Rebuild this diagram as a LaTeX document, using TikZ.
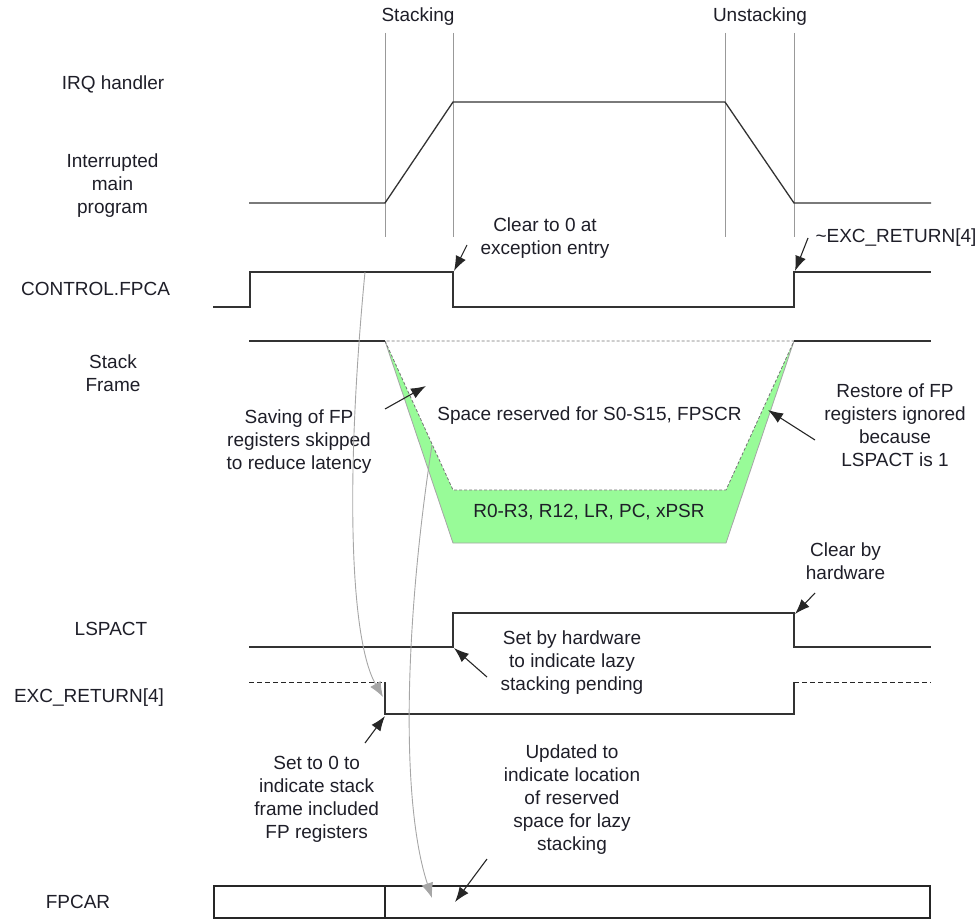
\documentclass[tikz,border=0pt]{standalone}
\usepackage{fontspec}
\setmainfont{Liberation Sans}
\usetikzlibrary{arrows.meta}
\definecolor{framegreen}{HTML}{98FB98}
\definecolor{inkc}{HTML}{1E1E28}
\begin{document}
\begin{tikzpicture}[x=1pt,y=-1pt,
  trace/.style={draw=black!80, line width=1.3pt},
  guide/.style={draw=black!40, line width=0.9pt},
  lbl/.style={font=\fontsize{19}{23}\selectfont, align=center, inner sep=0pt, text=inkc},
  callout/.style={draw=black!85, line width=1.1pt, -{Latex[length=15pt,width=11pt]}},
  flow/.style={draw=black!35, line width=0.9pt, -{Latex[length=15pt,width=12pt]}},
  reserved/.style={draw=black!55, line width=0.8pt, dash pattern=on 3pt off 2pt},
  undef/.style={draw=black!85, line width=1pt, dash pattern=on 5pt off 3pt}
]
\useasboundingbox (0,0) rectangle (979,920);

% phase boundaries
\draw[guide] (385,33) -- (385,237);
\draw[guide] (453,33) -- (453,237);
\draw[guide] (725,33) -- (725,237);
\draw[guide] (794,33) -- (794,237);
\node[lbl] (stk) at (418,17) {Stacking};
\node[lbl] (unstk) at (760,17) {Unstacking};

% row labels
\node[lbl] (irq) at (113,84) {IRQ handler};
\node[lbl] (mainp) at (112.5,186) {Interrupted\\main\\program};
\node[lbl] (fpca) at (95.5,289) {CONTROL.FPCA};
\node[lbl] (frame) at (113,373.5) {Stack\\Frame};
\node[lbl] (lspact) at (111,629) {LSPACT};
\node[lbl] (excret) at (89,698) {EXC\_RETURN[4]};
\node[lbl] (fpcar) at (78,902) {FPCAR};

% execution context
\draw[trace] (249,203) -- (385,203) -- (453,102) -- (725,102) -- (794,203) -- (931,203);

% CONTROL.FPCA
\draw[trace] (213,307) -- (250,307) -- (250,272) -- (453,272) -- (453,307) -- (794,307) -- (794,272) -- (931,272);

% stack frame
\fill[framegreen] (385,341) -- (453,543) -- (726,543) -- (794,341) -- cycle;
\fill[white] (385,341) -- (453,490) -- (726,490) -- (794,341) -- cycle;
\draw[draw=black!35, line width=0.8pt] (385,341) -- (453,543) -- (726,543) -- (794,341);
\draw[reserved] (385,341) -- (453,490) -- (726,490) -- (794,341) -- cycle;
\draw[trace] (249,341) -- (385,341);
\draw[trace] (794,341) -- (931,341);
\node[lbl] (fpspace) at (589.5,416) {Space reserved for S0-S15, FPSCR};
\node[lbl] (basic) at (589,512) {R0-R3, R12, LR, PC, xPSR};

% LSPACT
\draw[trace] (249,647) -- (453,647) -- (453,613) -- (794,613) -- (794,647) -- (931,647);

% EXC_RETURN[4]
\draw[undef] (249,682) -- (385,682);
\draw[trace] (385,682) -- (385,714) -- (794,714) -- (794,682);
\draw[undef] (794,682) -- (931,682);

% FPCAR
\draw[draw=black!85, line width=1.2pt] (214,886) rectangle (930,918);
\draw[draw=black!85, line width=1.2pt] (385,886) -- (385,918);

% annotations
\node[lbl] (clr0) at (545,238.5) {Clear to 0 at\\exception entry};
\node[lbl] (nexc) at (896,238) {\textasciitilde EXC\_RETURN[4]};
\node[lbl] (skip) at (299,442) {Saving of FP\\registers skipped\\to reduce latency};
\node[lbl] (restore) at (895,425) {Restore of FP\\registers ignored\\because\\LSPACT is 1};
\node[lbl] (clrhw) at (845.5,561.5) {Clear by\\hardware};
\node[lbl] (sethw) at (572,663) {Set by hardware\\to indicate lazy\\stacking pending};
\node[lbl] (set0) at (316.7,799.5) {Set to 0 to\\indicate stack\\frame included\\FP registers};
\node[lbl] (upd) at (572,800) {Updated to\\indicate location\\of reserved\\space for lazy\\stacking};

% callout end points
\coordinate (clr0-s) at (467,245);   \coordinate (clr0-t) at (454,271);
\coordinate (nexc-s) at (808,238);   \coordinate (nexc-t) at (795,271);
\coordinate (skip-s) at (385,409);   \coordinate (skip-t) at (426,386);
\coordinate (restore-s) at (815,440);\coordinate (restore-t) at (768,410);
\coordinate (clrhw-s) at (815,593);  \coordinate (clrhw-t) at (795,614);
\coordinate (sethw-s) at (487,677);  \coordinate (sethw-t) at (454,648);
\coordinate (set0-s) at (365,743);   \coordinate (set0-t) at (385,716);
\coordinate (upd-s) at (487,859);    \coordinate (upd-t) at (455,902);

\draw[callout] (clr0-s) -- (clr0-t);
\draw[callout] (nexc-s) -- (nexc-t);
\draw[callout] (skip-s) -- (skip-t);
\draw[callout] (restore-s) -- (restore-t);
\draw[callout] (clrhw-s) -- (clrhw-t);
\draw[callout] (sethw-s) -- (sethw-t);
\draw[callout] (set0-s) -- (set0-t);
\draw[callout] (upd-s) -- (upd-t);

% value flow between registers
\coordinate (fpca-bit) at (365,272);
\coordinate (exc-bit) at (383,697);
\coordinate (frame-fp) at (432,445);
\coordinate (fpcar-addr) at (432,898);
\draw[flow] (fpca-bit) .. controls (345,480) and (350,640) .. (exc-bit);
\draw[flow] (frame-fp) .. controls (405,620) and (400,800) .. (fpcar-addr);
\end{tikzpicture}
\end{document}
